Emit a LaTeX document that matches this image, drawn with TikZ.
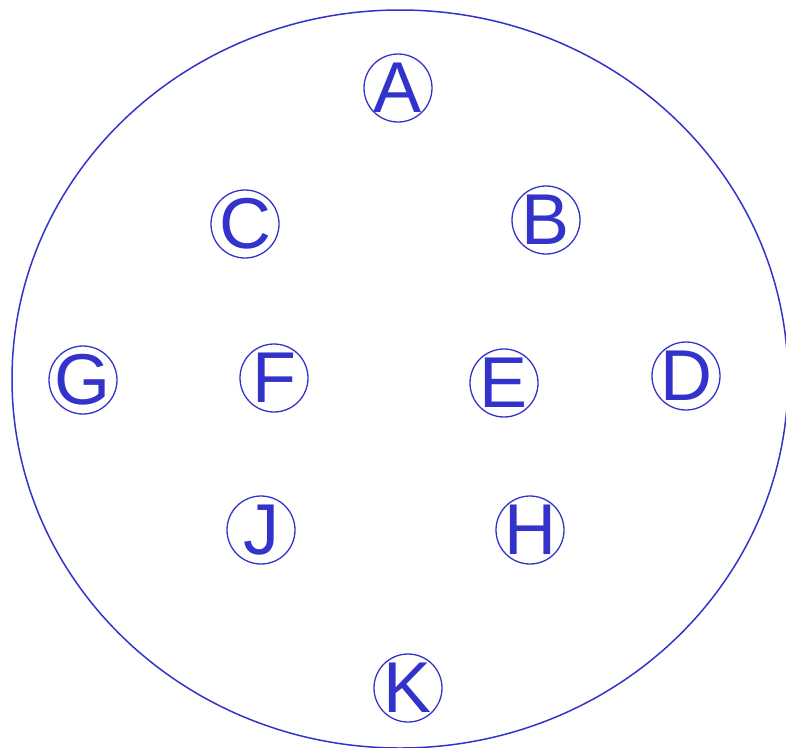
\documentclass[tikz,border=0pt]{standalone}
\usepackage{fontspec}
\setmainfont{Liberation Sans}
\usepackage{tikz}
\usetikzlibrary{positioning}
\definecolor{pinblue}{HTML}{3333CC}
\tikzset{
  pin/.style={draw=pinblue, circle, line width=1.3pt, minimum size=68pt,
              inner sep=-12pt, text=pinblue, font=\fontsize{72}{72}\selectfont},
  shell/.style={draw=pinblue, line width=1.5pt}
}
\begin{document}
\begin{tikzpicture}[x=1pt, y=-1pt]
    \useasboundingbox (0,0) rectangle (786,747);
    \draw[shell] (400,379) ellipse (388 and 369);
    \node[pin] (a) at (398,88) {A};
    \node[pin] (c) at (245,224) {C};
    \node[pin] (b) at (546,220) {B};
    \node[pin] (g) at (83,380) {G};
    \node[pin] (f) at (274,378) {F};
    \node[pin] (e) at (504,383) {E};
    \node[pin] (d) at (686,376) {D};
    \node[pin] (j) at (261,530) {J};
    \node[pin] (h) at (530,530) {H};
    \node[pin] (k) at (408,688) {K};
  \end{tikzpicture}
\end{document}
